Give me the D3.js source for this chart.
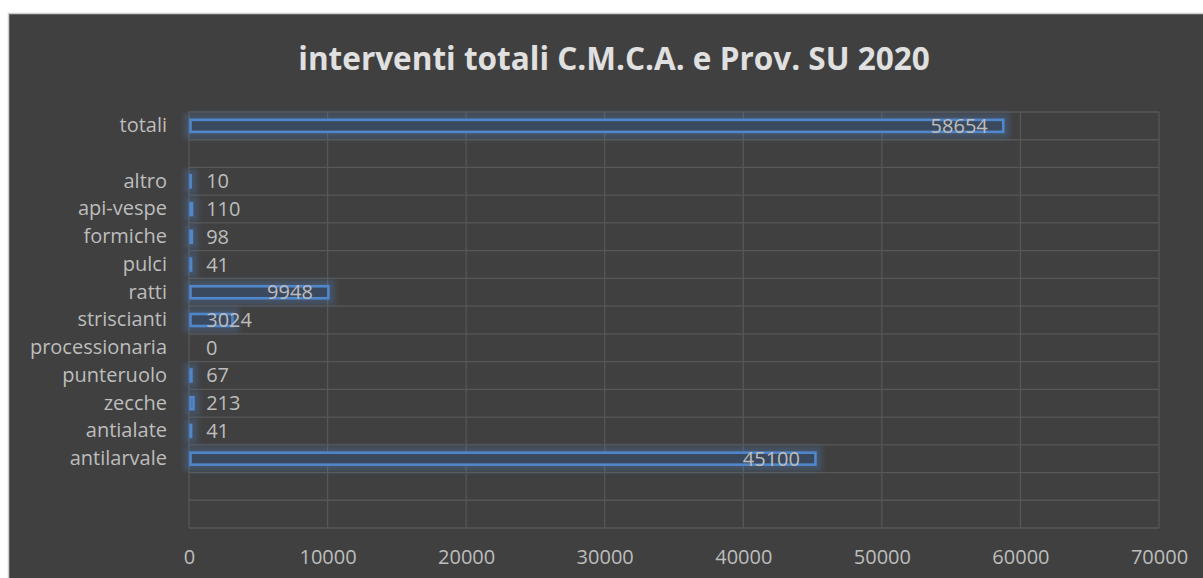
<!DOCTYPE html>
<html>
<head>
<meta charset="utf-8">
<script src="https://cdn.jsdelivr.net/npm/d3@7"></script>
<style>
  html, body { margin: 0; padding: 0; background: #ffffff; }
  text { font-family: "Open Sans", "Noto Sans", sans-serif; }
</style>
</head>
<body>
<div id="chart"></div>
<script>
// categories from top to bottom, empty strings are the blank rows
const categories = ["totali", "", "altro", "api-vespe", "formiche", "pulci", "ratti",
    "striscianti", "processionaria", "punteruolo", "zecche", "antialate", "antilarvale", "", ""];
const values = [58654, null, 10, 110, 98, 41, 9948, 3024, 0, 67, 213, 41, 45100, null, null];
const xTicks = [0, 10000, 20000, 30000, 40000, 50000, 60000, 70000];
const title = "interventi totali C.M.C.A. e Prov. SU 2020";

function createBarChart() {
    const W = 1203, H = 578;
    const plot = { left: 189, right: 1159, top: 112, bottom: 528 };

    const svg = d3.select("#chart")
        .append("svg")
        .attr("width", W)
        .attr("height", H);

    // glow filter for the bars (blue halo like Excel's glow effect)
    const defs = svg.append("defs");
    const glow = defs.append("filter")
        .attr("id", "glow")
        .attr("filterUnits", "userSpaceOnUse")
        .attr("x", 0).attr("y", 0)
        .attr("width", W).attr("height", H);
    glow.append("feMorphology")
        .attr("in", "SourceAlpha")
        .attr("operator", "dilate")
        .attr("radius", 5)
        .attr("result", "fat");
    glow.append("feGaussianBlur")
        .attr("in", "fat")
        .attr("stdDeviation", 2.5)
        .attr("result", "blur");
    glow.append("feFlood")
        .attr("flood-color", "#4f7fbd")
        .attr("flood-opacity", 0.3)
        .attr("result", "col");
    glow.append("feComposite")
        .attr("in", "col")
        .attr("in2", "blur")
        .attr("operator", "in")
        .attr("result", "halo");
    const merge = glow.append("feMerge");
    merge.append("feMergeNode").attr("in", "halo");
    merge.append("feMergeNode").attr("in", "SourceGraphic");

    // panel
    svg.append("rect")
        .attr("width", W).attr("height", H)
        .attr("fill", "#ffffff");
    svg.append("rect")
        .attr("x", 8.5).attr("y", 13.5)
        .attr("width", W).attr("height", H)
        .attr("fill", "#404040")
        .attr("stroke", "#cfcfcf")
        .attr("stroke-width", 1.5);

    const xScale = d3.scaleLinear()
        .domain([0, 70000])
        .range([plot.left, plot.right]);

    const yScale = d3.scaleBand()
        .domain(d3.range(categories.length))
        .range([plot.top, plot.bottom])
        .paddingInner(0);

    const barH = 12;

    // gridlines
    const grid = svg.append("g").attr("stroke", "#575757").attr("stroke-width", 1.3);
    grid.selectAll("line.v")
        .data(xTicks)
        .enter()
        .append("line")
        .attr("class", "v")
        .attr("x1", d => xScale(d)).attr("x2", d => xScale(d))
        .attr("y1", plot.top).attr("y2", plot.bottom);
    grid.selectAll("line.h")
        .data(d3.range(categories.length + 1))
        .enter()
        .append("line")
        .attr("class", "h")
        .attr("x1", plot.left).attr("x2", plot.right)
        .attr("y1", i => plot.top + i * yScale.step())
        .attr("y2", i => plot.top + i * yScale.step());

    // x axis labels
    const xAxis = svg.append("g")
        .attr("transform", `translate(0,${plot.bottom})`)
        .call(d3.axisBottom(xScale).tickValues(xTicks).tickSize(0).tickPadding(22).tickFormat(d3.format("d")));
    xAxis.select(".domain").remove();
    xAxis.selectAll("text")
        .attr("fill", "#bdbdbd")
        .style("font-size", "20px");

    // category labels
    const yAxis = svg.append("g")
        .attr("transform", `translate(${plot.left},0)`)
        .call(d3.axisLeft(yScale).tickSize(0).tickPadding(22).tickFormat(i => categories[i]));
    yAxis.select(".domain").remove();
    yAxis.selectAll("text")
        .attr("fill", "#bdbdbd")
        .style("font-size", "20px");

    const rows = values.map((v, i) => ({ i: i, v: v })).filter(d => d.v !== null);

    // bars
    svg.append("g")
        .attr("filter", "url(#glow)")
        .selectAll("rect")
        .data(rows)
        .enter()
        .append("rect")
        .attr("x", xScale(0) + 1.5)
        .attr("y", d => yScale(d.i) + (yScale.bandwidth() - barH) / 2)
        .attr("width", d => Math.max(0, xScale(d.v) - xScale(0)))
        .attr("height", barH)
        .attr("fill", "#3b4a5e")
        .attr("stroke", "#4f86cc")
        .attr("stroke-width", 2.6);

    // data labels: inside end, pushed right of the axis when the bar is short
    svg.append("g")
        .selectAll("text")
        .data(rows)
        .enter()
        .append("text")
        .attr("x", d => Math.max(xScale(d.v) - 14, xScale(0) + 17 + String(d.v).length * 11.5))
        .attr("y", d => yScale(d.i) + yScale.bandwidth() / 2)
        .attr("dy", "0.35em")
        .attr("text-anchor", "end")
        .attr("fill", "#bdbdbd")
        .style("font-size", "20px")
        .text(d => d.v);

    // title
    svg.append("text")
        .attr("x", 614)
        .attr("y", 70)
        .attr("text-anchor", "middle")
        .attr("fill", "#e0e0e0")
        .style("font-size", "31.5px")
        .style("font-weight", "bold")
        .text(title);
}

createBarChart();
</script>
</body>
</html>
